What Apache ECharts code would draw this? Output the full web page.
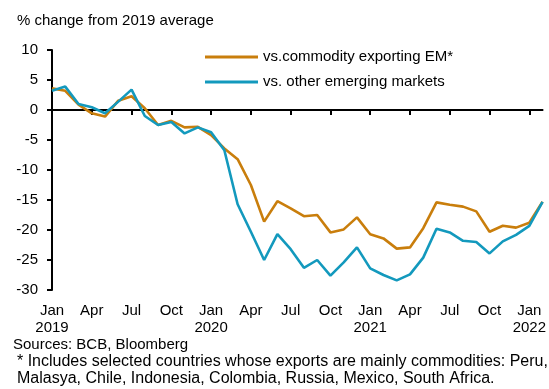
<!DOCTYPE html>
<html>
<head>
<meta charset="utf-8">
<script src="https://cdn.jsdelivr.net/npm/echarts@6/dist/echarts.min.js"></script>
<style>
  html, body { margin: 0; padding: 0; background: #ffffff; }
  #chart { width: 549px; height: 389px; }
</style>
</head>
<body>
<div id="chart"></div>
<script>
// Monthly observations, Jan 2019 – Feb 2022
const months = [
  'Jan\n2019','Feb','Mar','Apr','May','Jun','Jul','Aug','Sep','Oct','Nov','Dec',
  'Jan\n2020','Feb','Mar','Apr','May','Jun','Jul','Aug','Sep','Oct','Nov','Dec',
  'Jan\n2021','Feb','Mar','Apr','May','Jun','Jul','Aug','Sep','Oct','Nov','Dec',
  'Jan\n2022','Feb'
];

// % change from 2019 average
const vsCommodityEM = [
  3.6, 3.2, 0.9, -0.55, -1.1, 1.55, 2.3, 0.3, -2.5, -1.8, -2.9, -2.8,
  -4.2, -6.4, -8.2, -12.5, -18.6, -15.2, -16.4, -17.7, -17.5, -20.4, -19.9, -17.9,
  -20.7, -21.4, -23.1, -22.9, -19.7, -15.4, -15.8, -16.1, -16.9, -20.3, -19.3, -19.6,
  -18.8, -15.3
];
const vsOtherEM = [
  3.2, 3.9, 1.0, 0.45, -0.55, 1.4, 3.4, -1.0, -2.5, -2.0, -3.9, -2.9,
  -3.7, -6.7, -15.7, -20.3, -25.0, -20.7, -23.2, -26.3, -25.0, -27.6, -25.4, -22.9,
  -26.4, -27.5, -28.4, -27.4, -24.6, -19.8, -20.4, -21.8, -22.0, -23.9, -21.9, -20.8,
  -19.3, -15.3
];

const seriesNames = ['vs.commodity exporting EM*', 'vs. other emerging markets'];
const yTicks = { min: -30, max: 10, step: 5 };

const FONT = 'Liberation Sans, Arial, sans-serif';
const ORANGE = '#C97E0C';
const BLUE = '#1399BD';
const quarterly = (i) => i % 3 === 0;

const chart = echarts.init(document.getElementById('chart'), null, { renderer: 'canvas' });

chart.setOption({
  animation: false,
  backgroundColor: '#ffffff',
  textStyle: { fontFamily: FONT },
  grid: { left: 52, right: 5, top: 50, bottom: 99, containLabel: false },
  graphic: [
    { type: 'text', left: 17, top: 13,
      style: { text: '% change from 2019 average', font: '15px ' + FONT, fill: '#000' } },
    { type: 'text', left: 13, top: 337,
      style: { text: 'Sources: BCB, Bloomberg', font: '15px ' + FONT, fill: '#000' } },
    { type: 'text', left: 17, top: 354,
      style: { text: '* Includes selected countries whose exports are mainly commodities: Peru,', font: '16px ' + FONT, fill: '#000' } },
    { type: 'text', left: 17, top: 371,
      style: { text: 'Malasya, Chile, Indonesia, Colombia, Russia, Mexico, South Africa.', font: '16px ' + FONT, fill: '#000' } }
  ],
  legend: {
    orient: 'vertical',
    left: 200,
    top: 44,
    itemWidth: 53,
    itemHeight: 3,
    itemGap: 9,
    icon: 'rect',
    data: seriesNames,
    textStyle: { fontFamily: FONT, fontSize: 15, color: '#000', lineHeight: 16 }
  },
  xAxis: [
    {
      // zero line carrying the quarterly ticks
      type: 'category',
      data: months,
      boundaryGap: false,
      position: 'bottom',
      axisLine: { onZero: true, lineStyle: { color: '#000', width: 2 } },
      axisTick: { show: true, interval: quarterly, length: 5, lineStyle: { color: '#000', width: 2 } },
      axisLabel: { show: false },
      splitLine: { show: false }
    },
    {
      // date labels along the bottom edge
      type: 'category',
      data: months,
      boundaryGap: false,
      position: 'bottom',
      axisLine: { show: false, onZero: false },
      axisTick: { show: false },
      axisLabel: {
        interval: quarterly,
        margin: 12,
        fontFamily: FONT,
        fontSize: 15,
        lineHeight: 17,
        color: '#000'
      },
      splitLine: { show: false }
    }
  ],
  yAxis: {
    type: 'value',
    min: yTicks.min,
    max: yTicks.max,
    interval: yTicks.step,
    axisLine: { show: true, lineStyle: { color: '#000', width: 2 } },
    axisTick: { show: true, length: 5, lineStyle: { color: '#000', width: 2 } },
    axisLabel: { margin: 14, fontFamily: FONT, fontSize: 15, color: '#000' },
    splitLine: { show: false }
  },
  series: [
    {
      name: seriesNames[0],
      type: 'line',
      xAxisIndex: 0,
      data: vsCommodityEM,
      symbol: 'none',
      color: ORANGE,
      lineStyle: { color: ORANGE, width: 2.6 },
      z: 3
    },
    {
      name: seriesNames[1],
      type: 'line',
      xAxisIndex: 0,
      data: vsOtherEM,
      symbol: 'none',
      color: BLUE,
      lineStyle: { color: BLUE, width: 2.6 },
      z: 4
    }
  ]
});
</script>
</body>
</html>
